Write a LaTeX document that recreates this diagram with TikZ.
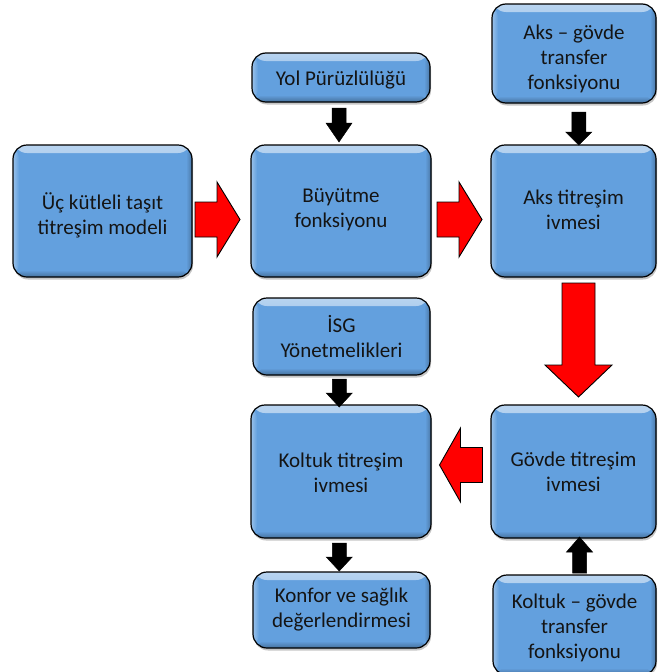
\documentclass[tikz,border=0pt]{standalone}
\usepackage{fontspec}
\setmainfont{Carlito}
\usetikzlibrary{calc,shadows}
\definecolor{boxblue}{RGB}{99,160,222}
\definecolor{txt}{RGB}{20,20,20}
\tikzset{
  box/.style={draw=black, line width=1.2pt, rounded corners=14pt, fill=boxblue, inner sep=0pt,
    drop shadow={opacity=0.45, shadow xshift=1pt, shadow yshift=-2.5pt},
    path picture={
      \shade[top color=white!55!boxblue, bottom color=boxblue]
        (path picture bounding box.north west) rectangle ([yshift=-8pt]path picture bounding box.north east);
      \shade[left color=white!35!boxblue, right color=boxblue]
        (path picture bounding box.north west) rectangle ([xshift=6pt]path picture bounding box.south west);
      \shade[top color=boxblue, bottom color=black!30!boxblue]
        ([yshift=7pt]path picture bounding box.south west) rectangle (path picture bounding box.south east);
      \shade[left color=boxblue, right color=black!25!boxblue]
        ([xshift=-6pt]path picture bounding box.north east) rectangle (path picture bounding box.south east);
    }},
  boxtext/.style={align=center, text=txt, font=\fontsize{21}{25}\selectfont, inner sep=0pt},
  redarrow/.style={fill=red, draw=black, line width=0.9pt, line join=miter},
  blackarrow/.style={fill=black, draw=black, line width=0.5pt, line join=miter},
  pics/blockarrow/.style n args={5}{code={
    \path[#1] (-#2/2,-#3) -- (#2/2-#5,-#3) -- (#2/2-#5,-#4) -- (#2/2,0)
      -- (#2/2-#5,#4) -- (#2/2-#5,#3) -- (-#2/2,#3) -- cycle;}}
}
\begin{document}
\begin{tikzpicture}[x=1pt,y=-1pt]
\useasboundingbox (0,0) rectangle (660,672);
\clip (0,0) rectangle (660,672);
% boxes
\node[box, minimum width=179pt, minimum height=132pt] (A) at (102.5,211) {};
\node[box, minimum width=180pt, minimum height=132pt] (B) at (341,211) {};
\node[box, minimum width=165pt, minimum height=132pt] (C) at (573.5,211) {};
\node[box, minimum width=178pt, minimum height=49pt] (Yol) at (341,77.5) {};
\node[box, minimum width=164pt, minimum height=99pt] (AksG) at (574,53.5) {};
\node[box, minimum width=177pt, minimum height=77pt] (ISG) at (341.5,336.5) {};
\node[box, minimum width=180pt, minimum height=133pt] (Kol) at (341,471.5) {};
\node[box, minimum width=165pt, minimum height=133pt] (Gov) at (573.5,471.5) {};
\node[box, minimum width=177pt, minimum height=76pt] (Kon) at (341.5,610) {};
\node[box, minimum width=163pt, minimum height=100pt] (KolG) at (574.5,625) {};
% box texts
\node[boxtext] (A-t) at ($(A)+(0,4)$) {Üç kütleli taşıt\\titreşim modeli};
\node[boxtext] (B-t) at ($(B)+(0,-1)$) {Büyütme\\fonksiyonu};
\node[boxtext] (C-t) at ($(C)+(0,-1)$) {Aks titreşim\\ivmesi};
\node[boxtext] (Yol-t) at ($(Yol)+(0,3)$) {Yol Pürüzlülüğü};
\node[boxtext] (AksG-t) at ($(AksG)+(0,5)$) {Aks – gövde\\transfer\\fonksiyonu};
\node[boxtext] (ISG-t) at ($(ISG)+(0,0)$) {İSG\\Yönetmelikleri};
\node[boxtext] (Kol-t) at ($(Kol)+(0,1)$) {Koltuk titreşim\\ivmesi};
\node[boxtext] (Gov-t) at ($(Gov)+(0,0)$) {Gövde titreşim\\ivmesi};
\node[boxtext] (Kon-t) at ($(Kon)+(0,0)$) {Konfor ve sağlık\\değerlendirmesi};
\node[boxtext] (KolG-t) at ($(KolG)+(0,3)$) {Koltuk – gövde\\transfer\\fonksiyonu};
% arrow positions
\coordinate (ab) at ($(A.east)!0.5!(B.west)+(-4,8.5)$);
\coordinate (bc) at ($(B.east)!0.5!(C.west)+(-1.5,8.5)$);
\coordinate (cg) at ($(C.south)!0.5!(Gov.north)+(5,-1)$);
\coordinate (gk) at ($(Gov.west)!0.5!(Kol.east)+(0,-6.5)$);
\coordinate (yb) at ($(Yol.south)!0.5!(B.north)+(-2,1.5)$);
\coordinate (ac) at ($(AksG.south)!0.5!(C.north)+(5,4.5)$);
\coordinate (ik) at ($(ISG.south)!0.5!(Kol.north)+(-2,3)$);
\coordinate (kk) at ($(Kol.south)!0.5!(Kon.north)+(-2,2)$);
\coordinate (kg) at ($(KolG.north)!0.5!(Gov.south)+(5.5,-1.5)$);
% red block arrows
\pic at (ab) {blockarrow={redarrow}{45}{17.5}{37.5}{23}};
\pic at (bc) {blockarrow={redarrow}{45}{17.5}{37.5}{23}};
\pic[rotate=-90] at (cg) {blockarrow={redarrow}{114}{16.5}{33.5}{32}};
\pic[rotate=180] at (gk) {blockarrow={redarrow}{43}{17.5}{37}{21}};
% black block arrows
\pic[rotate=-90] at (yb) {blockarrow={blackarrow}{34}{7}{13}{19}};
\pic[rotate=-90] at (ac) {blockarrow={blackarrow}{33}{7}{13}{13}};
\pic[rotate=-90] at (ik) {blockarrow={blackarrow}{28}{7}{13}{14}};
\pic[rotate=-90] at (kk) {blockarrow={blackarrow}{28}{7}{13}{14}};
\pic[rotate=90] at (kg) {blockarrow={blackarrow}{36}{7}{13}{15}};
\end{tikzpicture}
\end{document}
